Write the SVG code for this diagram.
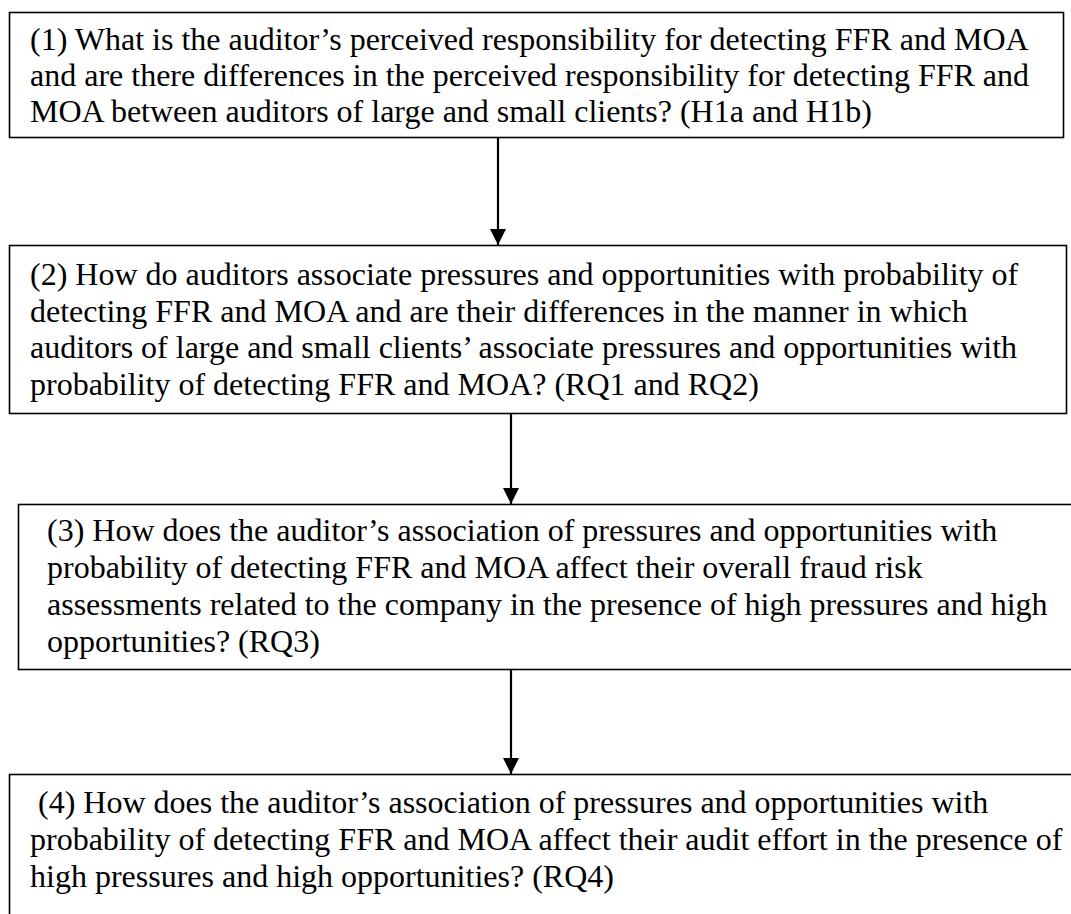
<svg xmlns="http://www.w3.org/2000/svg" width="1071" height="914" viewBox="0 0 1071 914">
<style>
.box{fill:#fff;stroke:#000;stroke-width:1.6}
.t{font-family:"Liberation Serif","Times New Roman",serif;font-size:32px;fill:#000}
.c{stroke:#000;stroke-width:2.2;fill:none}
</style>
<defs>
<marker id="ah" viewBox="0 0 16 16" refX="16" refY="8" markerWidth="16" markerHeight="16" markerUnits="userSpaceOnUse" orient="auto">
<path d="M0,0 L16,8 L0,16 Z" fill="#000"/>
</marker>
</defs>
<rect width="1071" height="914" fill="#fff"/>
<g id="node1">
<rect class="box" x="9.5" y="12.5" width="1054" height="125"/>
<text class="t" x="30" y="50">(1) What is the auditor’s perceived responsibility for detecting FFR and MOA</text>
<text class="t" x="30" y="86">and are there differences in the perceived responsibility for detecting FFR and</text>
<text class="t" x="30" y="122">MOA between auditors of large and small clients? (H1a and H1b)</text>
</g>
<g id="node2">
<rect class="box" x="9.5" y="245.5" width="1057" height="168"/>
<text class="t" x="30" y="285">(2) How do auditors associate pressures and opportunities with probability of</text>
<text class="t" x="30" y="322">detecting FFR and MOA and are their differences in the manner in which</text>
<text class="t" x="30" y="358">auditors of large and small clients’ associate pressures and opportunities with</text>
<text class="t" x="30" y="395">probability of detecting FFR and MOA? (RQ1 and RQ2)</text>
</g>
<g id="node3">
<rect class="box" x="18.5" y="504.5" width="1070" height="165"/>
<text class="t" x="47" y="541">(3) How does the auditor’s association of pressures and opportunities with</text>
<text class="t" x="47" y="578">probability of detecting FFR and MOA affect their overall fraud risk</text>
<text class="t" x="47" y="615">assessments related to the company in the presence of high pressures and high</text>
<text class="t" x="47" y="652">opportunities? (RQ3)</text>
</g>
<g id="node4">
<rect class="box" x="9.5" y="774.5" width="1080" height="160"/>
<text class="t" x="30" y="813" xml:space="preserve"> (4) How does the auditor’s association of pressures and opportunities with</text>
<text class="t" x="30" y="850">probability of detecting FFR and MOA affect their audit effort in the presence of</text>
<text class="t" x="30" y="887">high pressures and high opportunities? (RQ4)</text>
</g>
<g id="connectors">
<line class="c" x1="498" y1="138" x2="498" y2="245" marker-end="url(#ah)"/>
<line class="c" x1="511" y1="414" x2="511" y2="504" marker-end="url(#ah)"/>
<line class="c" x1="511" y1="670" x2="511" y2="774" marker-end="url(#ah)"/>
</g>
</svg>
